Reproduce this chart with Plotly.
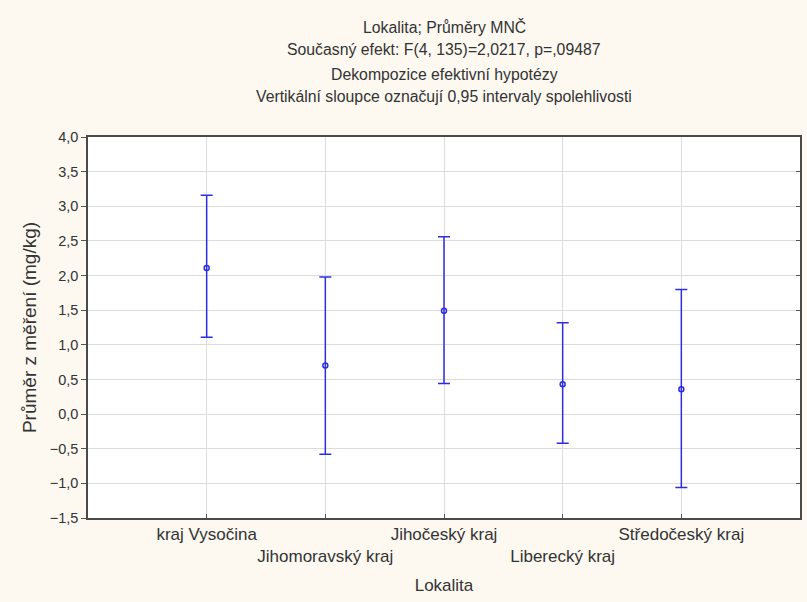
import plotly.graph_objects as go

categories = ["kraj Vysočina", "Jihomoravský kraj", "Jihočeský kraj", "Liberecký kraj", "Středočeský kraj"]
means = [2.11, 0.70, 1.49, 0.43, 0.36]
upper = [3.16, 1.98, 2.56, 1.32, 1.80]
lower = [1.11, -0.58, 0.44, -0.42, -1.06]

title_lines = [
    "Lokalita; Průměry MNČ",
    "Současný efekt: F(4, 135)=2,0217, p=,09487",
    "Dekompozice efektivní hypotézy",
    "Vertikální sloupce označují 0,95 intervaly spolehlivosti",
]
y_ticks = [-1.5, -1.0, -0.5, 0.0, 0.5, 1.0, 1.5, 2.0, 2.5, 3.0, 3.5, 4.0]

xpos = list(range(len(categories)))
err_plus = [u - m for u, m in zip(upper, means)]
err_minus = [m - l for m, l in zip(means, lower)]
ticktext = [c if i % 2 == 0 else "<br>" + c for i, c in enumerate(categories)]

FONT = "Liberation Sans, Arial, sans-serif"
BLUE = "#2e2ee0"
TXT = "#333333"
BG = "#fdf9f1"

fig = go.Figure()
fig.add_trace(go.Scatter(
    x=xpos, y=means, mode="markers",
    marker=dict(symbol="circle-open", size=5, color=BLUE, line=dict(width=1.5, color=BLUE)),
    error_y=dict(type="data", symmetric=False, array=err_plus, arrayminus=err_minus,
                 color=BLUE, thickness=1.5, width=6),
    showlegend=False, hoverinfo="skip",
))
# invisible trace for right-side inner ticks
fig.add_trace(go.Scatter(x=[None], y=[None], yaxis="y2", showlegend=False))

fig.update_layout(
    width=807, height=602,
    margin=dict(l=88, r=7, t=137, b=84),
    paper_bgcolor=BG,
    plot_bgcolor="#ffffff",
    separators=",.",
    font=dict(family=FONT, size=15, color=TXT),
    xaxis=dict(
        range=[-1, 5], tickmode="array", tickvals=xpos, ticktext=ticktext,
        tickangle=0, automargin=False,
        showgrid=True, gridcolor="#dcdcdc", gridwidth=1,
        ticks="inside", ticklen=4, tickcolor="#555555",
        showline=True, linecolor="#4a4a4a", linewidth=1.5, mirror=True,
        zeroline=False,
        title=dict(text="Lokalita", font=dict(family=FONT, size=17, color=TXT), standoff=14),
        tickfont=dict(family=FONT, size=17, color=TXT),
    ),
    yaxis=dict(
        range=[-1.5, 4.0], tickmode="array", tickvals=y_ticks, tickformat=".1f",
        automargin=False,
        showgrid=True, gridcolor="#dcdcdc", gridwidth=1,
        ticks="outside", ticklen=5, tickcolor="#555555",
        showline=True, linecolor="#4a4a4a", linewidth=1.5, mirror=True,
        zeroline=False,
        title=dict(text="Průměr z měření (mg/kg)", font=dict(family=FONT, size=19, color=TXT), standoff=8),
        tickfont=dict(family=FONT, size=14.5, color=TXT),
    ),
    yaxis2=dict(
        range=[-1.5, 4.0], tickmode="array", tickvals=y_ticks, overlaying="y", side="right",
        showticklabels=False, ticks="inside", ticklen=4, tickcolor="#555555",
        showgrid=False, zeroline=False, showline=False, automargin=False,
    ),
)

title_y_px = [27, 50, 74, 97]
for line, ypx in zip(title_lines, title_y_px):
    fig.add_annotation(
        text=line, xref="paper", yref="paper",
        x=0.5, y=(518 - ypx) / 381, xanchor="center", yanchor="middle",
        showarrow=False, font=dict(family=FONT, size=15.8, color=TXT),
    )

fig.write_html(
    "out.html",
    config={"displayModeBar": False},
    post_script="document.body.style.margin='0';document.body.style.background='%s';" % BG,
)
